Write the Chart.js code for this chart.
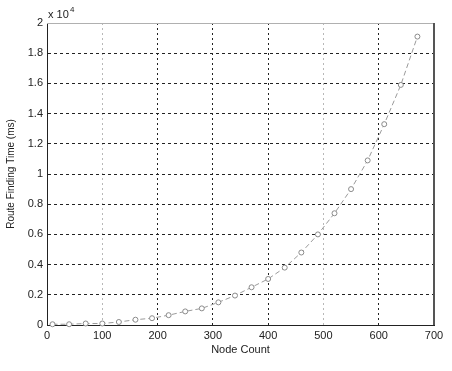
<!DOCTYPE html>
<html>
<head>
<meta charset="utf-8">
<script src="https://cdn.jsdelivr.net/npm/chart.js@4/dist/chart.umd.min.js"></script>
<style>
  html, body { margin: 0; padding: 0; background: #fff; }
  #wrap { width: 452px; height: 371px; }
</style>
</head>
<body>
<div id="wrap"><canvas id="c" width="452" height="371"></canvas></div>
<script>
// node counts and route finding time (ms)
var nodeCount = [10, 40, 70, 100, 130, 160, 190, 220, 250, 280, 310, 340, 370, 400, 430, 460, 490, 520, 550, 580, 610, 640, 670];
var routeTime = [50, 50, 100, 100, 200, 350, 450, 650, 900, 1100, 1500, 1950, 2500, 3050, 3800, 4800, 6000, 7400, 9000, 10900, 13300, 15900, 19100];
var xTicks = [0, 100, 200, 300, 400, 500, 600, 700];
var yTicks = [0, 2000, 4000, 6000, 8000, 10000, 12000, 14000, 16000, 18000, 20000];

var points = nodeCount.map(function (n, i) { return { x: n, y: routeTime[i] }; });

var font = { family: 'Liberation Sans, Arial, sans-serif', size: 11 };

// frame + "x 10^4" exponent label like matlab
var framePlugin = {
  id: 'frame',
  afterDraw: function (chart) {
    var a = chart.chartArea, ctx = chart.ctx;
    ctx.save();
    ctx.strokeStyle = '#b0b0b0';
    ctx.lineWidth = 1;
    ctx.beginPath();
    ctx.moveTo(a.left, a.top + 0.5);
    ctx.lineTo(a.right, a.top + 0.5);
    ctx.stroke();
    ctx.strokeStyle = '#555';
    ctx.lineWidth = 2;
    ctx.beginPath();
    ctx.moveTo(a.right, a.top);
    ctx.lineTo(a.right, a.bottom);
    ctx.stroke();
    ctx.fillStyle = '#222';
    ctx.font = '11px Liberation Sans, Arial, sans-serif';
    ctx.textBaseline = 'alphabetic';
    ctx.fillText('x 10', a.left + 1, a.top - 5);
    ctx.font = '8px Liberation Sans, Arial, sans-serif';
    ctx.fillText('4', a.left + 23, a.top - 11);
    ctx.restore();
  }
};

var ctx = document.getElementById('c').getContext('2d');
var chart = new Chart(ctx, {
  type: 'line',
  data: {
    datasets: [{
      data: points,
      clip: false,
      borderColor: '#9a9a9a',
      borderWidth: 1,
      borderDash: [5, 3],
      pointStyle: 'circle',
      pointRadius: 2.5,
      pointBorderWidth: 1,
      pointBorderColor: '#8a8a8a',
      pointBackgroundColor: '#fff',
      fill: false,
      tension: 0
    }]
  },
  options: {
    responsive: false,
    animation: false,
    layout: { padding: { top: 23, right: 18, left: 0, bottom: 0 } },
    plugins: { legend: { display: false }, tooltip: { enabled: false } },
    scales: {
      x: {
        type: 'linear',
        min: 0,
        max: 700,
        afterBuildTicks: function (s) { s.ticks = xTicks.map(function (v) { return { value: v }; }); },
        afterFit: function (s) { s.height = 46; },
        ticks: { font: font, color: '#222', padding: 4, maxRotation: 0 },
        grid: {
          drawTicks: false,
          lineWidth: 1,
          color: function (c) { return (c.tick && (c.tick.value === 100 || c.tick.value === 500)) ? '#b8b8b8' : '#222'; }
        },
        border: { display: true, color: '#222', width: 1, dash: [2, 3] },
        title: { display: true, text: 'Node Count', font: font, color: '#222', padding: { top: 0, bottom: 14 } }
      },
      y: {
        min: 0,
        max: 20000,
        afterBuildTicks: function (s) { s.ticks = yTicks.map(function (v) { return { value: v }; }); },
        afterFit: function (s) { s.width = 47; },
        ticks: {
          font: font,
          color: '#222',
          padding: 4,
          callback: function (v) { return String(Math.round(v / 1000) / 10); }
        },
        grid: { drawTicks: false, lineWidth: 1, color: '#222' },
        border: { display: true, color: '#222', width: 1, dash: [3, 3] },
        title: { display: true, text: 'Route Finding Time (ms)', font: { family: font.family, size: 10 }, color: '#222', padding: { top: 5, bottom: 0 } }
      }
    }
  },
  plugins: [framePlugin]
});
</script>
</body>
</html>
